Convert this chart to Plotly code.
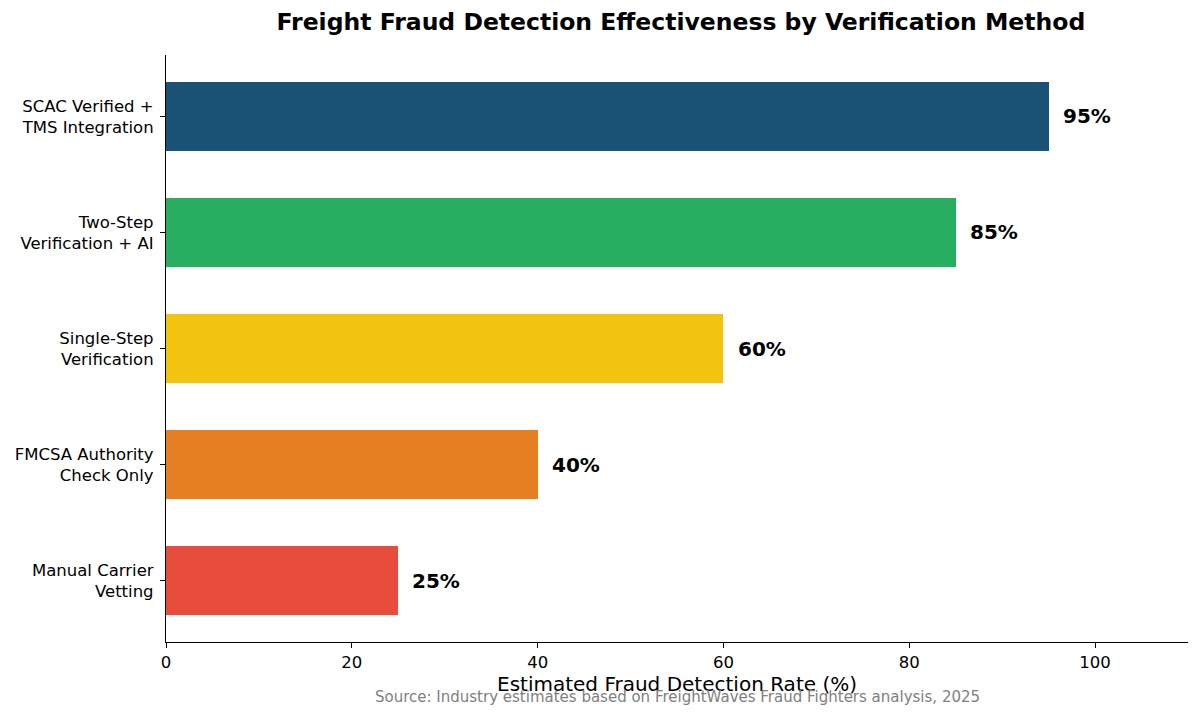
import plotly.graph_objects as go

methods = [
    "Manual Carrier<br>Vetting",
    "FMCSA Authority<br>Check Only",
    "Single-Step<br>Verification",
    "Two-Step<br>Verification + AI",
    "SCAC Verified +<br>TMS Integration",
]
detection_rates = [25, 40, 60, 85, 95]
bar_colors = ["#e74c3c", "#e67e22", "#f1c40f", "#27ae60", "#1a5276"]
x_ticks = [0, 20, 40, 60, 80, 100]

FONT = "DejaVu Sans, Arial, sans-serif"

fig = go.Figure(
    go.Bar(
        x=detection_rates,
        y=list(range(len(methods))),
        orientation="h",
        width=0.6,
        marker={"color": bar_colors, "line": {"width": 0}},
        hoverinfo="skip",
    )
)

for i, v in enumerate(detection_rates):
    fig.add_annotation(
        x=v + 1.3, y=i, text=f"<b>{v}%</b>", showarrow=False,
        xanchor="left", yanchor="middle",
        font={"size": 20, "color": "black", "family": FONT},
    )

fig.add_annotation(
    x=0.5, y=-0.094, xref="paper", yref="paper", yanchor="middle",
    text="Source: Industry estimates based on FreightWaves Fraud Fighters analysis, 2025",
    showarrow=False, font={"size": 15, "color": "#808080", "family": FONT},
)

# page body has an 8px margin, so the figure is sized 8px smaller
fig.update_layout(
    width=1192,
    height=709,
    title={
        "text": "<b>Freight Fraud Detection Effectiveness by Verification Method</b>",
        "x": 0.5645, "xanchor": "center", "y": 0.981, "yanchor": "middle",
        "font": {"size": 23.5, "color": "black", "family": FONT},
    },
    font={"family": FONT, "color": "black"},
    plot_bgcolor="white",
    paper_bgcolor="white",
    margin={"l": 158, "r": 12, "t": 47, "b": 75, "autoexpand": False},
    showlegend=False,
    bargap=0,
    xaxis={
        "range": [0, 110],
        "tickvals": x_ticks,
        "ticks": "outside", "ticklen": 5, "tickwidth": 1, "tickcolor": "black",
        "showline": True, "linecolor": "black", "linewidth": 1.2,
        "showgrid": False, "zeroline": False, "automargin": False,
        "tickfont": {"size": 16.5},
        "title": {"text": "Estimated Fraud Detection Rate (%)", "font": {"size": 20}, "standoff": 5},
    },
    yaxis={
        "range": [-0.53, 4.53],
        "tickvals": list(range(len(methods))),
        "ticktext": methods,
        "ticks": "outside", "ticklen": 5, "tickwidth": 1, "tickcolor": "black",
        "ticklabelstandoff": 3,
        "showline": True, "linecolor": "black", "linewidth": 1.2,
        "showgrid": False, "zeroline": False, "automargin": False,
        "tickfont": {"size": 16.5},
    },
)

fig.write_html("out.html")
